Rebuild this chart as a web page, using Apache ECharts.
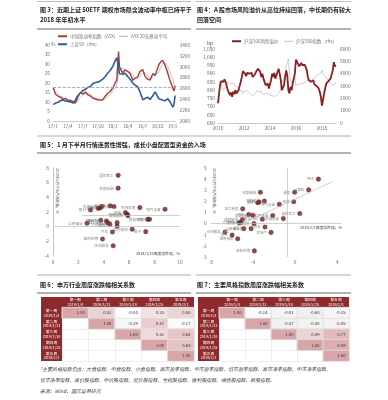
<!DOCTYPE html>
<html><head><meta charset="utf-8">
<script src="https://cdn.jsdelivr.net/npm/echarts/dist/echarts.min.js"></script>
<style>html,body{margin:0;padding:0;background:#fff}#c{width:388px;height:400px}</style>
</head><body><div id="c"></div>
<script>
const FONT = "'Noto Sans CJK SC','Noto Sans',sans-serif";

// ---------- 图3 ----------
const fig3Dates = ['2017-01-03','2017-01-16','2017-02-03','2017-02-16','2017-03-03','2017-03-16','2017-04-03','2017-04-17','2017-05-03','2017-05-16','2017-06-01','2017-06-16','2017-07-03','2017-07-17','2017-08-01','2017-08-16','2017-09-01','2017-09-15','2017-10-09','2017-10-16','2017-11-01','2017-11-16','2017-12-01','2017-12-15','2018-01-02','2018-01-16','2018-01-26','2018-02-06','2018-02-12','2018-03-01','2018-03-16','2018-04-02','2018-04-16','2018-05-02','2018-05-16','2018-06-01','2018-06-15','2018-07-02','2018-07-16','2018-08-01','2018-08-16','2018-09-03','2018-09-17','2018-10-08','2018-10-19','2018-11-01','2018-11-16','2018-12-03','2018-12-17','2019-01-03','2019-01-10','2019-01-17'];
const ivix = [17.5,14.2,13.0,12.6,11.4,11.9,10.6,10.9,10.1,9.4,12.8,15.0,14.2,15.3,13.8,13.2,12.0,11.6,11.0,10.5,11.2,13.0,14.6,15.4,17.5,20.0,21.5,36.5,28.5,25.2,27.0,26.0,25.0,21.5,22.5,23.3,26.0,27.0,23.5,22.0,21.5,25.0,24.0,29.5,31.0,32.0,29.5,25.0,21.0,17.5,15.8,18.5];
const ivixMA20 = [16.5,15.8,14.2,13.2,12.3,11.8,11.2,10.8,10.5,10.0,10.6,12.5,13.9,14.4,14.5,13.9,13.1,12.2,11.6,11.1,10.9,11.6,12.9,14.2,15.5,17.3,19.0,24.0,27.5,27.8,26.5,26.2,25.8,24.3,22.8,22.5,23.5,25.2,25.5,24.0,22.5,22.8,24.0,25.5,28.0,30.2,30.5,28.6,25.5,21.8,19.5,18.0];
const sz50 = [2300,2330,2345,2375,2385,2368,2362,2352,2330,2385,2470,2515,2565,2585,2620,2632,2690,2705,2725,2750,2770,2820,2885,2925,3010,3110,3165,2980,2870,2860,2880,2815,2770,2700,2660,2630,2540,2390,2415,2440,2395,2470,2535,2410,2445,2385,2372,2410,2350,2255,2305,2470];
const fig3XLabels = ['17/1','17/4','17/7','17/10','18/1','18/4','18/7','18/10','19/1'];
const ivixRef = 17.6;

// ---------- 图4 ----------
const riskPremium = [
 720,780,835,855,860,850,865,850,845,800,790,770,
 785,760,790,775,800,780,790,800,810,850,880,915,
 925,900,885,905,915,900,890,905,880,870,895,910,
 905,930,940,910,880,900,870,850,830,820,840,810,
 820,860,900,880,905,870,890,910,930,900,860,800,
 790,830,880,920,890,800,780,820,800,840,870,900,
 985,975,960,945,955,965,950,945,955,940,920,880,
 860,855,850,845,860,835,830,825,815,810,790,760,
 705,740,780,810,840,830,855,860,870,880,920,970,
 945,950];
const hs300 = [
 3300,3250,3300,3100,2850,2650,2850,2900,2950,3350,3250,3150,
 3050,3200,3250,3200,3000,3000,2950,2850,2600,2700,2650,2400,
 2450,2600,2500,2600,2550,2450,2350,2250,2300,2250,2150,2450,
 2650,2700,2500,2450,2600,2300,2250,2350,2450,2400,2450,2350,
 2250,2200,2150,2200,2150,2150,2300,2350,2450,2500,2800,3400,
 3450,3550,3900,4600,4900,5200,4100,3500,3300,3550,3600,3700,
 3000,2900,3150,3150,3150,3150,3200,3300,3250,3350,3450,3300,
 3400,3450,3450,3450,3450,3650,3700,3800,3820,3950,4000,4050,
 4300,4000,3950,3750,3800,3550,3450,3350,3400,3150,3150,3050,
 3150,3300];
const fig4StartYear = 2010, fig4EndYear = 2019, fig4EndMonth = 2;

// ---------- 图5 ----------
const scLeftNames = ['国防军工','非银金融','有色金属','计算机','通信','农林牧渔','电气设备','银行','采掘','化工','传媒','机械设备','建筑材料','房地产','商业贸易','轻工制造','纺织服装','综合','食品饮料','公用事业','建筑装饰','钢铁','家用电器','电子','汽车','医药生物','休闲服务'];
const scLeftX = [5.13,5.13,3.85,4.5,4.8,6.84,8.82,2.95,3.55,3.7,5.7,5.84,5.9,3.76,4.2,4.3,4.48,5.05,5.05,2.68,7.45,7.6,6.24,7.3,4.68,3.9,4.74];
const scLeftY = [7.0,5.25,2.74,2.84,2.74,2.6,2.38,2.28,2.5,2.55,1.92,1.7,1.5,0.87,0.78,0.55,0.33,0.55,0.1,0.46,1.0,1.0,-0.36,-0.68,-0.72,-1.68,-2.6];
const scLeftRefY = 1.5, scLeftRefX0 = 2.3;

const scRightNames = ['电子','计算机','通信','传媒','电气设备','国防军工','机械设备','有色金属','非银金融','农林牧渔','化工','采掘','建筑材料','轻工制造','汽车','综合','房地产','纺织服装','商业贸易','公用事业','交通运输','建筑装饰','钢铁','休闲服务','银行','家用电器','医药生物','食品饮料'];
const scRightX = [2.21,1.29,-0.04,-0.13,-1.49,0.44,-1.11,-2.12,-3.29,-2.91,-3.55,-3.4,-4.0,-4.97,-4.4,-2.85,-2.28,-3.9,-4.17,-4.87,-5.18,-5.0,-5.3,-6.64,-5.97,-5.44,-3.86,-3.1];
const scRightY = [4.0,3.03,2.82,1.97,1.73,0.91,0.45,0.73,2.82,2.03,1.88,1.95,0.75,1.33,0.82,-0.3,-0.79,0.0,-0.45,-0.45,0.05,0.36,0.1,-0.76,-1.03,-1.36,-2.45,0.4];
const scRightVLine = -0.7;
const scRightTrend = [[-6.7,-0.76],[3.56,3.78]];

// ---------- 图6 / 图7 ----------
const weekLabels = ['第一周\n2019/1/4','第二周\n2019/1/11','第三周\n2019/1/18','第四周\n2019/1/25','第五周\n2019/2/1'];
const fig6Corr = [
 [1.00,0.52,-0.04,0.33,0.50],
 [null,1.00,-0.29,0.57,-0.17],
 [null,null,1.00,0.42,0.64],
 [null,null,null,1.00,0.68],
 [null,null,null,null,1.00]];
const fig7Corr = [
 [1.00,-0.14,-0.41,-0.60,-0.35],
 [null,1.00,-0.57,-0.48,-0.45],
 [null,null,1.00,0.49,0.77],
 [null,null,null,1.00,0.89],
 [null,null,null,null,1.00]];

// ---------- helpers ----------
function monthOffset(s){const [y,m,d]=s.split('-').map(Number);return (y-2017)*12+(m-1)+(d-1)/31;}
const fig3X = fig3Dates.map(monthOffset);
const fig4Months = [];
for(let y=fig4StartYear;y<=fig4EndYear;y++){for(let m=1;m<=12;m++){if(y===fig4EndYear&&m>fig4EndMonth)break;fig4Months.push(y+'-'+m);}}
function heat(mat){const out=[];mat.forEach((row,r)=>row.forEach((v,c)=>{if(v!==null)out.push([c,r,v]);}));return out;}
const commas = v => String(v).replace(/\B(?=(\d{3})+(?!\d))/g, ',');

const AX = {fontSize:4.8,color:'#666',fontFamily:FONT};
const noLine = {show:false}, noTick = {show:false}, noSplit = {show:false};
const G = o => Object.assign({outerBoundsMode:'none',containLabel:false},o);

const titleStyle = t => ({text:t,fontSize:6,fontWeight:'bold',fill:'#222',fontFamily:FONT,verticalAlign:'middle'});
function hline(x1,x2,y,c,w){return {type:'line',shape:{x1:x1,y1:y,x2:x2,y2:y},style:{stroke:c,lineWidth:w||0.8},silent:true};}
function txt(x,y,t,style){return {type:'text',x:x,y:y,style:Object.assign({text:t,fontFamily:FONT,verticalAlign:'middle'},style),silent:true};}

const legendBase = {icon:'rect',itemWidth:9,itemHeight:2,padding:0,itemGap:0,textStyle:{fontSize:4.5,color:'#777',fontFamily:FONT,padding:[0,0,0,-2]},selectedMode:false};

const option = {
 animation:false,
 backgroundColor:'#fff',
 textStyle:{fontFamily:FONT},
 grid:[
  G({left:53,top:45,width:122.5,height:76}),
  G({left:218,top:49,width:118,height:74}),
  G({left:53,top:168,width:127,height:88}),
  G({left:210.7,top:168,width:130.8,height:89}),
  G({left:62,top:307.5,width:132,height:53.5}),
  G({left:219,top:307.5,width:130,height:53.5})
 ],
 legend:[
  Object.assign({},legendBase,{data:['中国波动率指数（iVIX）'],left:58,top:34}),
  Object.assign({},legendBase,{data:['iVIX 20天移动平均'],left:119,top:34,itemHeight:1}),
  Object.assign({},legendBase,{data:['上证50（rhs）'],left:58,top:42}),
  Object.assign({},legendBase,{data:['沪深300风险溢价'],left:232,top:39}),
  Object.assign({},legendBase,{data:['沪深300指数（rhs）'],left:284,top:39,itemHeight:1})
 ],
 xAxis:[
  {type:'value',gridIndex:0,min:0,max:24.6,interval:3,axisLine:{show:true,lineStyle:{color:'#bbb',width:0.8}},axisTick:noTick,splitLine:noSplit,
   axisLabel:Object.assign({},AX,{fontSize:4.5,margin:3,showMaxLabel:false,formatter:v=>{const i=Math.round(v/3);return Math.abs(v-i*3)<1e-6&&i<fig3XLabels.length?fig3XLabels[i]:'';}})},
  {type:'category',gridIndex:1,data:fig4Months,boundaryGap:false,axisLine:{show:true,lineStyle:{color:'#bbb',width:0.8}},axisTick:noTick,splitLine:noSplit,
   axisLabel:Object.assign({},AX,{margin:3,interval:(i,v)=>{const p=v.split('-');return p[1]==='1'&&(+p[0])%2===0;},formatter:v=>v.split('-')[0]})},
  {type:'value',gridIndex:2,min:0,max:10,interval:2,axisLine:noLine,axisTick:noTick,splitLine:noSplit,axisLabel:Object.assign({},AX,{margin:4})},
  {type:'value',gridIndex:3,min:-8,max:4.4,interval:4,axisLine:noLine,axisTick:noTick,splitLine:noSplit,
   axisLabel:Object.assign({},AX,{margin:3,showMaxLabel:false,formatter:v=>(v%4===0?String(v):'')})},
  {type:'category',gridIndex:4,position:'top',data:weekLabels,z:10,axisLine:noLine,axisTick:noTick,
   splitLine:{show:true,interval:0,lineStyle:{color:'#ddd',width:0.5}},
   axisLabel:{fontSize:3.8,lineHeight:4.6,color:'#fff',margin:1,interval:0,fontFamily:FONT}},
  {type:'category',gridIndex:5,position:'top',data:weekLabels,z:10,axisLine:noLine,axisTick:noTick,
   splitLine:{show:true,interval:0,lineStyle:{color:'#ddd',width:0.5}},
   axisLabel:{fontSize:3.8,lineHeight:4.6,color:'#fff',margin:1,interval:0,fontFamily:FONT}}
 ],
 yAxis:[
  {type:'value',gridIndex:0,min:0,max:40,interval:5,axisLine:noLine,axisTick:noTick,splitLine:noSplit,axisLabel:Object.assign({},AX,{margin:3})},
  {type:'value',gridIndex:0,position:'right',min:2000,max:3400,interval:200,axisLine:noLine,axisTick:noTick,splitLine:noSplit,axisLabel:Object.assign({},AX,{margin:4,formatter:v=>String(v)})},
  {type:'value',gridIndex:1,min:600,max:1050,interval:50,axisLine:noLine,axisTick:noTick,splitLine:noSplit,axisLabel:Object.assign({},AX,{margin:3,formatter:commas})},
  {type:'value',gridIndex:1,position:'right',min:0,max:6000,interval:1000,axisLine:noLine,axisTick:noTick,splitLine:noSplit,axisLabel:Object.assign({},AX,{margin:4,formatter:v=>String(v)})},
  {type:'value',gridIndex:2,min:-4,max:8,interval:2,axisLine:{show:true,onZero:false,lineStyle:{color:'#aaa',width:0.7}},axisTick:noTick,splitLine:noSplit,axisLabel:Object.assign({},AX,{margin:4})},
  {type:'value',gridIndex:3,min:-3,max:5,interval:1,axisLine:noLine,axisTick:noTick,splitLine:noSplit,axisLabel:Object.assign({},AX,{margin:4})},
  {type:'category',gridIndex:4,inverse:true,data:weekLabels,z:10,axisLine:noLine,axisTick:noTick,
   splitLine:{show:true,interval:0,lineStyle:{color:'#ddd',width:0.5}},
   axisLabel:{fontSize:3.8,lineHeight:4.6,color:'#fff',margin:10.5,align:'center',interval:0,fontFamily:FONT}},
  {type:'category',gridIndex:5,inverse:true,data:weekLabels,z:10,axisLine:noLine,axisTick:noTick,
   splitLine:{show:true,interval:0,lineStyle:{color:'#ddd',width:0.5}},
   axisLabel:{fontSize:3.8,lineHeight:4.6,color:'#fff',margin:10.5,align:'center',interval:0,fontFamily:FONT}}
 ],
 visualMap:{type:'continuous',show:false,min:-1,max:1,seriesIndex:[7,8],inRange:{color:['#e6e3e3','#ffffff','#d8a6a9']}},
 series:[
  {name:'中国波动率指数（iVIX）',type:'line',xAxisIndex:0,yAxisIndex:0,data:fig3X.map((x,i)=>[x,ivix[i]]),
   color:'#a83a3a',showSymbol:false,lineStyle:{width:1.4,color:'#a83a3a'},z:3,
   markLine:{silent:true,symbol:'none',label:{show:false},lineStyle:{type:'dashed',color:'#999',width:0.8},data:[{yAxis:ivixRef}]}},
  {name:'iVIX 20天移动平均',type:'line',xAxisIndex:0,yAxisIndex:0,data:fig3X.map((x,i)=>[x,ivixMA20[i]]),
   color:'#b5b5b5',showSymbol:false,lineStyle:{width:0.8,color:'#b5b5b5'},z:2},
  {name:'上证50（rhs）',type:'line',xAxisIndex:0,yAxisIndex:1,data:fig3X.map((x,i)=>[x,sz50[i]]),
   color:'#2f5c9a',showSymbol:false,lineStyle:{width:1.6,color:'#2f5c9a'},z:4},
  {name:'沪深300风险溢价',type:'line',xAxisIndex:1,yAxisIndex:2,data:riskPremium,
   color:'#8b1f22',showSymbol:false,lineStyle:{width:1.8,color:'#8b1f22'},z:4},
  {name:'沪深300指数（rhs）',type:'line',xAxisIndex:1,yAxisIndex:3,data:hs300,
   color:'#c2c2c2',showSymbol:false,lineStyle:{width:0.8,color:'#c2c2c2'},z:3},
  {type:'scatter',xAxisIndex:2,yAxisIndex:4,symbolSize:4.6,
   itemStyle:{color:'#701c1c',borderColor:'#4a1010',borderWidth:0.3},
   data:scLeftNames.map((n,i)=>({name:n,value:[scLeftX[i],scLeftY[i]]})),
   label:{show:true,position:'left',distance:2,fontSize:3.6,color:'#666',formatter:p=>p.name,fontFamily:FONT},
   markLine:{silent:true,symbol:'none',label:{show:false},lineStyle:{type:'solid',color:'#bbb',width:0.7},
    data:[{yAxis:0},[{coord:[scLeftRefX0,scLeftRefY]},{coord:[10,scLeftRefY]}]]}},
  {type:'scatter',xAxisIndex:3,yAxisIndex:5,symbolSize:4.6,
   itemStyle:{color:'#701c1c',borderColor:'#4a1010',borderWidth:0.3},
   data:scRightNames.map((n,i)=>({name:n,value:[scRightX[i],scRightY[i]]})),
   label:{show:true,position:'left',distance:2,fontSize:3.4,color:'#666',formatter:p=>p.name,fontFamily:FONT},
   markLine:{silent:true,symbol:'none',label:{show:false},lineStyle:{type:'solid',color:'#bbb',width:0.7},
    data:[{yAxis:0},{xAxis:scRightVLine},[{coord:scRightTrend[0]},{coord:scRightTrend[1]}]]}},
  {type:'heatmap',xAxisIndex:4,yAxisIndex:6,data:heat(fig6Corr),
   itemStyle:{borderColor:'#e4e4e4',borderWidth:0.5},
   label:{show:true,position:'insideRight',distance:4,fontSize:4.2,color:'#333',fontFamily:FONT,formatter:p=>p.value[2].toFixed(2)}},
  {type:'heatmap',xAxisIndex:5,yAxisIndex:7,data:heat(fig7Corr),
   itemStyle:{borderColor:'#e4e4e4',borderWidth:0.5},
   label:{show:true,position:'insideRight',distance:4,fontSize:4.2,color:'#333',fontFamily:FONT,formatter:p=>p.value[2].toFixed(2)}}
 ],
 graphic:{elements:[
  hline(37,191,1.5,'#aaa',0.8), hline(196,351,1.5,'#aaa',0.8),
  {type:'text',x:40,y:10,style:titleStyle('图 3：近期上证 50ETF 期权市场隐含波动率中枢已持平于'),silent:true},
  {type:'text',x:40,y:19.5,style:titleStyle('2018 年年初水平'),silent:true},
  {type:'text',x:197,y:10,style:titleStyle('图 4：A 股市场风险溢价从高位持续回落，中长期仍有较大'),silent:true},
  {type:'text',x:197,y:19.5,style:titleStyle('回落空间'),silent:true},
  hline(37,191,29,'#666',1), hline(196,351,29,'#666',1),
  txt(51,44,'%',{fontSize:5,fill:'#666'}),
  txt(207,43,'bp',{fontSize:5,fill:'#666'}),
  hline(37,351,136,'#999',0.8),
  {type:'text',x:40,y:144.5,style:titleStyle('图 5：1 月下半月行情连贯性增强，成长小盘配置型资金的入场'),silent:true},
  hline(37,351,153,'#666',1),
  {type:'text',x:57,y:168,rotation:-Math.PI/2,style:{text:'2019年1月下半月涨跌幅，%',fontSize:3.6,fill:'#555',fontFamily:FONT,align:'left',verticalAlign:'middle'},silent:true},
  txt(180,254,'2019/1/15周度涨跌幅，%',{fontSize:3.8,fill:'#444',align:'right'}),
  {type:'text',x:214,y:168,rotation:-Math.PI/2,style:{text:'2019年1月下半月涨跌幅，%',fontSize:3.6,fill:'#555',fontFamily:FONT,align:'left',verticalAlign:'middle'},silent:true},
  txt(342,227.5,'2019/2/1周度涨跌幅，%',{fontSize:3.8,fill:'#444',align:'right'}),
  hline(37,191,275,'#999',0.8), hline(196,351,275,'#999',0.8),
  {type:'text',x:40,y:284.5,style:titleStyle('图 6：申万行业周度涨跌幅相关系数'),silent:true},
  {type:'text',x:197,y:284.5,style:titleStyle('图 7：主要风格指数周度涨跌幅相关系数'),silent:true},
  hline(37,191,293,'#666',1), hline(196,351,293,'#666',1),
  {type:'rect',z:1,shape:{x:41,y:297,width:153,height:10.5},style:{fill:'#8e2a2c'},silent:true},
  {type:'rect',z:1,shape:{x:41,y:297,width:21,height:64},style:{fill:'#8e2a2c'},silent:true},
  {type:'rect',z:1,shape:{x:198,y:297,width:151,height:10.5},style:{fill:'#8e2a2c'},silent:true},
  {type:'rect',z:1,shape:{x:198,y:297,width:21,height:64},style:{fill:'#8e2a2c'},silent:true},
  txt(40,369,'*主要风格指数包含：大盘指数、中盘指数、小盘指数、高市盈率指数、中市盈率指数、低市盈率指数、高市净率指数、中市净率指数、',{fontSize:4.9,fill:'#444',fontStyle:'italic'}),
  txt(40,380,'低市净率指数、高价股指数、中价股指数、低价股指数、亏损股指数、微利股指数、绩优股指数、新股指数。',{fontSize:4.9,fill:'#444',fontStyle:'italic'}),
  txt(40,391,'来源：Wind，国元证券研究',{fontSize:4.9,fill:'#444',fontStyle:'italic'})
 ]}
};
const chart = echarts.init(document.getElementById('c'),null,{renderer:'canvas'});
chart.setOption(option);
</script></body></html>
